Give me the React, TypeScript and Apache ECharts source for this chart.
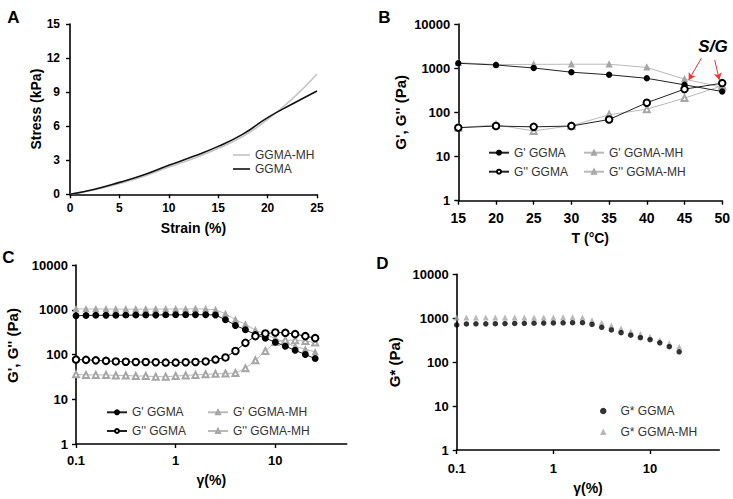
import React, { useEffect, useRef } from "react";
import * as echarts from "echarts";

// ---------- Data ----------
// Panel A: stress-strain
const strainA = [0, 2.5, 5, 7.5, 10, 12.5, 15, 17.5, 20, 22.5, 25];
const stressGGMA = [0, 0.45, 1.05, 1.72, 2.55, 3.35, 4.22, 5.3, 6.75, 7.95, 9.1];
const stressMH = [0, 0.4, 0.95, 1.6, 2.4, 3.15, 4.05, 5.1, 6.6, 8.4, 10.6];

// Panel B: temperature sweep
const tempB = [15, 20, 25, 30, 35, 40, 45, 50];
const gpGGMA_B = [1290, 1180, 1010, 810, 710, 590, 420, 296];
const gpMH_B = [1330, 1210, 1220, 1230, 1230, 1040, 565, 370];
const gppGGMA_B = [45, 49, 47, 49, 69, 165, 335, 458];
const gppMH_B = [45, 52, 38, 50, 88, 118, 210, 400];

// Panel C: strain sweep
const strainC = [0.1, 0.126, 0.158, 0.2, 0.251, 0.316, 0.398, 0.501, 0.631, 0.794, 1, 1.26, 1.58, 2, 2.51, 3.16, 3.98, 5.01, 6.31, 7.94, 10, 12.6, 15.8, 20, 25.1];
const gpGGMA_C = [735, 745, 750, 752, 755, 758, 760, 762, 765, 768, 770, 772, 775, 775, 765, 600, 447, 357, 280, 231, 188, 153, 124, 100, 81];
const gpMH_C = [1040, 1040, 1035, 1035, 1030, 1030, 1030, 1030, 1035, 1035, 1040, 1040, 1045, 1040, 1000, 815, 600, 475, 350, 280, 230, 185, 152, 131, 114];
const gppGGMA_C = [77, 76, 74, 72, 70, 69, 68, 68, 67, 66, 66, 67, 68, 70, 77, 86, 120, 182, 257, 295, 310, 305, 285, 257, 232];
const gppMH_C = [36, 35, 35, 35, 34, 34, 33, 33, 32, 32, 33, 34, 35, 36, 37, 37.5, 38.5, 49, 74, 120, 190, 209, 209, 200, 185];

// Panel D: complex modulus
const strainD = [0.1, 0.126, 0.158, 0.2, 0.251, 0.316, 0.398, 0.501, 0.631, 0.794, 1, 1.26, 1.58, 2, 2.51, 3.16, 3.98, 5.01, 6.31, 7.94, 10, 12.6, 15.8, 20];
const gsGGMA_D = [705, 740, 745, 748, 750, 755, 760, 765, 770, 775, 780, 785, 790, 790, 720, 620, 540, 470, 410, 360, 325, 275, 225, 172];
const gsMH_D = [1035, 1040, 1040, 1040, 1040, 1040, 1040, 1040, 1045, 1045, 1045, 1050, 1050, 1045, 900, 790, 680, 580, 500, 435, 380, 320, 270, 225];

// tick labels
const logYTicks = [1, 10, 100, 1000, 10000];
const logXTicks = [0.1, 1, 10];

const FONT = 'Arial, "Liberation Sans", Helvetica, sans-serif';
const BLACK = "#000000";
const GRAY_M = "#a6a6a6";
const GRAY_L = "#b9b9b9";

const zip = (xs: number[], ys: number[]) => xs.map((x, i) => [x, ys[i]]);

const logFmt = (v: number) => (v >= 1 ? String(Math.round(v)) : String(Math.round(v * 10) / 10));

function axisCommon(gridIndex: number, labelSize: number, labelMargin: number, name: string, nameGap: number, nameSize: number) {
  return {
    gridIndex,
    name,
    nameLocation: "middle" as const,
    nameGap,
    nameTextStyle: { fontFamily: FONT, fontWeight: "bold", fontSize: nameSize, color: BLACK },
    axisLine: { show: true, onZero: false, lineStyle: { color: BLACK, width: 1.6 } },
    axisTick: { show: true, inside: false, length: 4, lineStyle: { color: BLACK, width: 1.4 } },
    splitLine: { show: false },
    axisLabel: { fontFamily: FONT, fontWeight: "bold", fontSize: labelSize, color: BLACK, margin: labelMargin },
  };
}

function logY(gridIndex: number, name: string, nameGap: number, shiftUp = 0) {
  const a: any = axisCommon(gridIndex, 13, 8, name, nameGap, 15);
  a.type = "log";
  a.logBase = 10;
  a.min = 1;
  a.max = 10000;
  a.axisLabel.formatter = logFmt;
  a.axisLabel.customValues = logYTicks;
  a.axisTick.customValues = logYTicks;
  if (shiftUp) a.nameTextStyle.padding = [0, 0, 0, shiftUp * 2];
  return a;
}

function logX(gridIndex: number, name: string, nameGap: number, margin: number) {
  const a: any = axisCommon(gridIndex, 13, margin, name, nameGap, 14);
  a.type = "log";
  a.logBase = 10;
  a.min = 0.1;
  a.max = 52;
  a.axisLabel.formatter = logFmt;
  a.axisLabel.customValues = logXTicks;
  a.axisTick.customValues = logXTicks;
  return a;
}

const stripName = (n: string) => n.split("|")[1];

function legend(names: any[], left: number, top: number, itemGap: number, itemWidth: number, itemHeight = 5, textPad = 0) {
  return {
    orient: "vertical" as const,
    left,
    top,
    padding: 0,
    itemWidth,
    itemHeight,
    itemGap,
    selectedMode: false,
    data: names,
    formatter: stripName,
    textStyle: { fontFamily: FONT, fontSize: 12, color: "#333333", lineHeight: 14, padding: [0, 0, 0, textPad] },
  };
}

function lineSeries(name: string, xi: number, data: number[][], symbol: string, color: string, lineColor: string, size: number, z = 2) {
  return {
    name,
    type: "line",
    xAxisIndex: xi,
    yAxisIndex: xi,
    data,
    symbol,
    symbolSize: size,
    showSymbol: true,
    itemStyle: { color, borderColor: color, borderWidth: 1.4 },
    lineStyle: { color: lineColor, width: 1 },
    z,
  };
}

function buildOption() {
  const title = (text: string, x: number, y: number) => ({
    type: "text",
    x,
    y,
    style: { text, fontFamily: FONT, fontWeight: "bold", fontSize: 17, fill: BLACK, align: "center", verticalAlign: "middle" },
  });

  const xA: any = axisCommon(0, 12, 8, "Strain (%)", 27, 14);
  xA.type = "value";
  xA.min = 0;
  xA.max = 25;
  xA.interval = 5;
  const yA: any = axisCommon(0, 12, 10, "Stress (kPa)", 27, 14);
  yA.type = "value";
  yA.min = 0;
  yA.max = 15;
  yA.interval = 3;

  const xB: any = axisCommon(1, 14, 10, "T (°C)", 30, 14);
  xB.type = "value";
  xB.min = 15;
  xB.max = 50;
  xB.interval = 5;

  const series: any[] = [
    // A
    {
      name: "A|GGMA-MH", type: "line", xAxisIndex: 0, yAxisIndex: 0, data: zip(strainA, stressMH),
      smooth: true, symbol: "none", lineStyle: { color: "#c4c4c4", width: 1.6 }, itemStyle: { color: "#c4c4c4" },
    },
    {
      name: "A|GGMA", type: "line", xAxisIndex: 0, yAxisIndex: 0, data: zip(strainA, stressGGMA),
      smooth: true, symbol: "none", lineStyle: { color: "#111111", width: 1.6 }, itemStyle: { color: "#111111" },
    },
    // B
    lineSeries("B|G' GGMA-MH", 1, zip(tempB, gpMH_B), "triangle", GRAY_M, GRAY_L, 5, 2),
    lineSeries("B|G'' GGMA-MH", 1, zip(tempB, gppMH_B), "emptyTriangle", GRAY_M, GRAY_L, 6, 2),
    lineSeries("B|G' GGMA", 1, zip(tempB, gpGGMA_B), "circle", BLACK, "#222222", 5, 3),
    {
      ...lineSeries("B|G'' GGMA", 1, zip(tempB, gppGGMA_B), "emptyCircle", BLACK, "#222222", 6.5, 3),
      markLine: {
        silent: true,
        symbol: ["none", "arrow"],
        symbolSize: [6, 7],
        label: { show: false },
        lineStyle: { color: "#ff2a2a", width: 1, type: "solid" },
        data: [
          [{ coord: [47.24, 1683] }, { coord: [45.55, 540] }],
          [{ coord: [49.0, 1541] }, { coord: [49.62, 540] }],
        ],
      },
    },
    // C
    lineSeries("C|G' GGMA-MH", 2, zip(strainC, gpMH_C), "triangle", GRAY_M, GRAY_L, 5, 2),
    lineSeries("C|G'' GGMA-MH", 2, zip(strainC, gppMH_C), "emptyTriangle", GRAY_M, GRAY_L, 6, 2),
    lineSeries("C|G' GGMA", 2, zip(strainC, gpGGMA_C), "circle", BLACK, "#222222", 5.5, 3),
    lineSeries("C|G'' GGMA", 2, zip(strainC, gppGGMA_C), "emptyCircle", BLACK, "#222222", 6.5, 3),
    // D
    {
      name: "D|G* GGMA-MH", type: "scatter", xAxisIndex: 3, yAxisIndex: 3, data: zip(strainD, gsMH_D),
      symbol: "triangle", symbolSize: 6, itemStyle: { color: GRAY_M }, z: 2,
    },
    {
      name: "D|G* GGMA", type: "scatter", xAxisIndex: 3, yAxisIndex: 3, data: zip(strainD, gsGGMA_D),
      symbol: "circle", symbolSize: 5.5, itemStyle: { color: BLACK }, z: 3,
    },
  ];

  return {
    animation: false,
    backgroundColor: "#ffffff",
    grid: [
      { left: 70, top: 24, width: 247, height: 170.3 },
      { left: 458.3, top: 24, width: 266, height: 176.7 },
      { left: 76, top: 265, width: 270.7, height: 179 },
      { left: 456.7, top: 274.3, width: 262.6, height: 175.7 },
    ],
    xAxis: [xA, xB, logX(2, "γ(%)", 29, 10), logX(3, "γ(%)", 31, 12)],
    yAxis: [yA, logY(1, "G', G'' (Pa)", 50), logY(2, "G', G'' (Pa)", 56, 9), logY(3, "G* (Pa)", 55)],
    legend: [
      legend([{ name: "A|GGMA-MH", icon: "rect" }, { name: "A|GGMA", icon: "rect" }], 233, 148, 0, 17, 1.6),
      legend(["B|G' GGMA", "B|G'' GGMA"], 488, 145.7, 5, 20),
      legend(["B|G' GGMA-MH", "B|G'' GGMA-MH"], 583, 145.7, 5, 20),
      legend(["C|G' GGMA", "C|G'' GGMA"], 106, 405.3, 4.7, 20),
      legend(["C|G' GGMA-MH", "C|G'' GGMA-MH"], 207, 405.3, 4.7, 20),
      legend(["D|G* GGMA", "D|G* GGMA-MH"], 600, 404, 6.7, 6.5, 6.5, 9),
    ],
    graphic: [
      title("A", 13.5, 17.5),
      title("B", 384.5, 17.5),
      title("C", 8.5, 257.5),
      title("D", 382.5, 263.5),
      {
        type: "text",
        x: 713,
        y: 46,
        style: { text: "S/G", fontFamily: FONT, fontWeight: "bold", fontStyle: "italic", fontSize: 17, fill: BLACK, align: "center", verticalAlign: "middle" },
      },
    ],
    series,
  };
}

export default function App() {
  const ref = useRef<HTMLDivElement>(null);
  useEffect(() => {
    if (!ref.current) return;
    const chart = echarts.init(ref.current, undefined, { renderer: "svg" });
    chart.setOption(buildOption() as any);
    return () => chart.dispose();
  }, []);
  return (
    <div
      ref={ref}
      style={{ position: "fixed", left: 0, top: 0, width: 733, height: 499, background: "#fff" }}
    />
  );
}
